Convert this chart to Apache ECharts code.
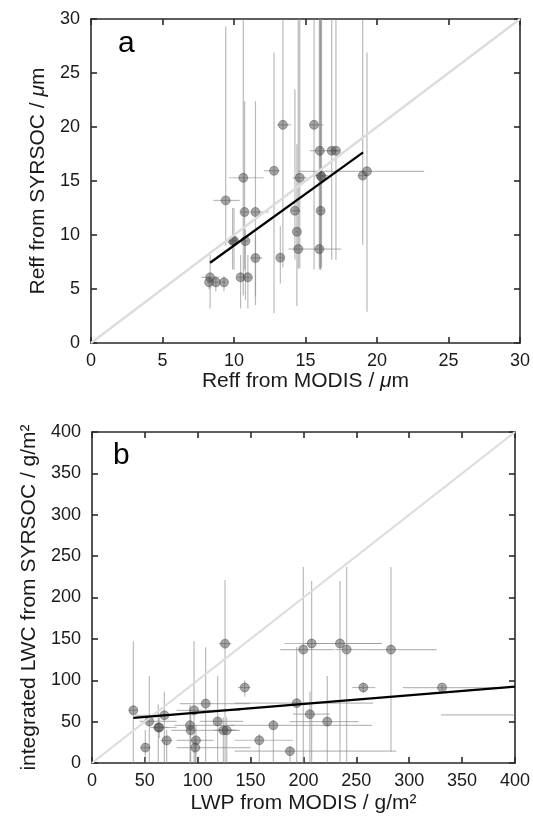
<!DOCTYPE html>
<html><head><meta charset="utf-8">
<script src="https://cdn.jsdelivr.net/npm/echarts@6/dist/echarts.min.js"></script>
<style>html,body{margin:0;padding:0;background:#fff}#c{width:533px;height:825px}</style>
</head><body><div id="c"></div>
<script>
// ---------- Panel a: effective radius (µm) ----------
const aX   = [9.42,10.65,10.74,11.5,12.8,13.42,9.9,10.0,10.8,11.5,13.24,8.33,8.26,8.73,9.3,10.46,10.97,14.26,16.06,14.4,14.5,15.97,14.6,16.06,16.12,16.0,16.83,17.13,15.6,19.0,19.3];
const aY   = [13.2,15.3,12.13,12.13,15.95,20.2,9.47,9.47,9.44,7.87,7.9,6.08,5.62,5.62,5.62,6.08,6.08,12.25,12.25,10.3,8.7,8.7,15.3,15.5,15.4,17.8,17.8,17.8,20.2,15.5,15.9];
const aXlo = [8.56,9.65,10.5,11.16,12.1,13.0,9.7,9.8,10.6,11.16,13.1,7.7,8.1,8.6,9.15,10.3,10.8,14.0,15.8,14.3,13.8,15.2,14.1,15.5,15.9,15.3,16.6,16.9,15.3,18.7,14.5];
const aXhi = [10.4,12.08,11.0,12.43,13.2,14.0,10.1,10.2,11.0,12.0,13.4,8.96,8.4,8.9,9.45,10.6,11.2,14.6,16.3,14.5,15.2,17.5,15.1,16.6,16.3,17.3,17.1,17.4,16.25,19.3,23.3];
const aYlo = [9.0,4.4,6.8,4.3,2.75,7.0,6.8,6.8,4.0,3.5,5.5,3.2,5.0,4.8,4.8,3.2,3.2,7.7,6.8,3.4,6.9,6.8,6.9,6.8,7.0,7.0,7.7,7.7,6.8,9.1,2.9];
const aYhi = [29.3,31,22.4,22.4,26.9,31,12.5,12.5,10.5,10.0,10.8,8.15,6.2,6.2,6.2,8.15,8.15,23.5,31,18.4,31,31,31,31,31,31,31,31,31,31,26.9];
const aFit = [[8.33,7.43],[19.03,17.66]];
const aOne = [[0,0],[30,30]];
const aTicks = [0,5,10,15,20,25,30];

// ---------- Panel b: liquid water path (g/m²) ----------
const bX   = [39.1,50.4,54.2,62.7,63.6,68.4,70.6,92.7,93.3,96.5,98.3,97.7,107.5,118.8,124.2,127.4,125.8,144.4,158.2,171.5,187.2,193.6,199.8,207.7,206.1,222.5,234.5,240.8,256.6,282.7,331,430];
const bY   = [63.7,18.6,50.2,42.9,42.9,57.7,27.3,45.5,39.5,63.7,27.3,18.6,71.8,50.2,39.5,39.5,144.2,91.2,27.5,45.5,14.3,72.3,137.1,144.4,59,50.1,144.4,137.1,91.2,137.1,91.2,58.1];
const bXlo = [35,46,45,55,58,41,65,78,75,80,80,80,83,102,115,118,120,138,135,130,135,135,178,182,190,187,200,230,246,256,294,330];
const bXhi = [43,55,80,80,72,77,76,135,140,140,115,150,149,143,135,137,132,150,190,265,288,266,229,274,225,252,274,256,268,326,391,440];
const bYlo = [-5,-5,-5,-5,30,-5,-5,-5,-5,-5,-5,-5,-5,-5,-5,-5,-5,80,-5,-5,-5,-5,-5,-5,-5,-5,-5,-5,85,13.7,88,58.1];
const bYhi = [147,40,105,71,55,86,40,70,60,147,45,30,140,105,55,55,221,100,35,52,20,140,237,220,86.5,105,220,237,97,237,94,58.1];
const bFit = [[39.1,54.6],[400,92.2]];
const bOne = [[0,0],[400,400]];
const bTicks = [0,50,100,150,200,250,300,350,400];

const FONT = '"Liberation Sans", Arial, sans-serif';
const AX = '#2a2a2a';

function zip(xs, ys, a, b, c, d) { return xs.map((x, i) => [x, ys[i], a[i], b[i], c[i], d[i]]); }

function errRender(params, api) {
  const x = api.value(0), y = api.value(1);
  const v1 = api.coord([x, api.value(4)]), v2 = api.coord([x, api.value(5)]);
  const h1 = api.coord([api.value(2), y]), h2 = api.coord([api.value(3), y]);
  const st = { stroke: 'rgba(140,140,140,0.6)', lineWidth: 1.2 };
  return { type: 'group', children: [
    { type: 'line', shape: { x1: v1[0], y1: v1[1], x2: v2[0], y2: v2[1] }, style: st },
    { type: 'line', shape: { x1: h1[0], y1: h1[1], x2: h2[0], y2: h2[1] }, style: st }
  ]};
}

function mainAxis(pos, grid, ticks, nameStr, gap, rich) {
  const lo = ticks[0], hi = ticks[ticks.length - 1];
  return {
    type: 'value', gridIndex: grid, position: pos, min: lo, max: hi, interval: ticks[1] - ticks[0],
    name: nameStr, nameLocation: 'middle', nameGap: gap,
    nameTextStyle: { fontFamily: FONT, fontSize: 21, color: '#1a1a1a', rich: rich },
    axisLine: { show: true, onZero: false, lineStyle: { color: AX, width: 1.6 } },
    axisTick: { show: true, inside: true, length: 6, lineStyle: { color: AX, width: 1.6 } },
    axisLabel: { show: true, fontFamily: FONT, fontSize: 18, color: '#1a1a1a', margin: pos === 'left' ? 11 : 9, showMinLabel: true, showMaxLabel: true },
    splitLine: { show: false }
  };
}
function mirrorAxis(pos, grid, ticks) {
  return {
    type: 'value', gridIndex: grid, position: pos, min: ticks[0], max: ticks[ticks.length - 1], interval: ticks[1] - ticks[0],
    axisLine: { show: true, onZero: false, lineStyle: { color: AX, width: 1.6 } },
    axisTick: { show: true, inside: true, length: 6, lineStyle: { color: AX, width: 1.6 } },
    axisLabel: { show: false }, splitLine: { show: false }
  };
}

const richN = { t: { fontFamily: FONT, fontSize: 21, color: '#1a1a1a' }, i: { fontFamily: FONT, fontSize: 21, fontStyle: 'italic', color: '#1a1a1a' } };
const markStyle = { color: 'rgba(75,75,75,0.62)', borderColor: 'rgba(45,45,45,0.55)', borderWidth: 0.8 };

const option = {
  animation: false,
  backgroundColor: '#fff',
  grid: [
    { left: 91, right: 10, top: 19, height: 324 },
    { left: 92, right: 18, top: 432, height: 331 }
  ],
  xAxis: [
    mainAxis('bottom', 0, aTicks, '{t|Reff from MODIS / }{i|μ}{t|m}', 27, richN),
    mirrorAxis('top', 0, aTicks),
    mainAxis('bottom', 1, bTicks, 'LWP from MODIS / g/m²', 30, richN),
    mirrorAxis('top', 1, bTicks)
  ],
  yAxis: [
    mainAxis('left', 0, aTicks, '{t|Reff from SYRSOC / }{i|μ}{t|m}', 36, richN),
    mirrorAxis('right', 0, aTicks),
    mainAxis('left', 1, bTicks, 'integrated LWC from SYRSOC / g/m²', 46, richN),
    mirrorAxis('right', 1, bTicks)
  ],
  series: [
    { type: 'line', xAxisIndex: 0, yAxisIndex: 0, data: aOne, symbol: 'none', silent: true, lineStyle: { color: '#dcdcdc', width: 2.2 } },
    { type: 'custom', xAxisIndex: 0, yAxisIndex: 0, data: zip(aX, aY, aXlo, aXhi, aYlo, aYhi), renderItem: errRender, clip: true, silent: true },
    { type: 'scatter', xAxisIndex: 0, yAxisIndex: 0, data: aX.map((x, i) => [x, aY[i]]), symbolSize: 9, clip: true, itemStyle: markStyle },
    { type: 'line', xAxisIndex: 0, yAxisIndex: 0, data: aFit, symbol: 'none', silent: true, lineStyle: { color: '#000', width: 2.2 } },

    { type: 'line', xAxisIndex: 2, yAxisIndex: 2, data: bOne, symbol: 'none', silent: true, lineStyle: { color: '#dcdcdc', width: 2.2 } },
    { type: 'custom', xAxisIndex: 2, yAxisIndex: 2, data: zip(bX, bY, bXlo, bXhi, bYlo, bYhi), renderItem: errRender, clip: true, silent: true },
    { type: 'scatter', xAxisIndex: 2, yAxisIndex: 2, data: bX.map((x, i) => [x, bY[i]]), symbolSize: 9, clip: true, itemStyle: markStyle },
    { type: 'line', xAxisIndex: 2, yAxisIndex: 2, data: bFit, symbol: 'none', silent: true, lineStyle: { color: '#000', width: 2.2 } }
  ],
  graphic: [
    { type: 'text', left: 118, top: 29, style: { text: 'a', font: '30px ' + FONT, fill: '#000' } },
    { type: 'text', left: 113, top: 441, style: { text: 'b', font: '30px ' + FONT, fill: '#000' } }
  ]
};
const chart = echarts.init(document.getElementById('c'), null, { renderer: 'canvas' });
chart.setOption(option);
</script>
</body></html>
